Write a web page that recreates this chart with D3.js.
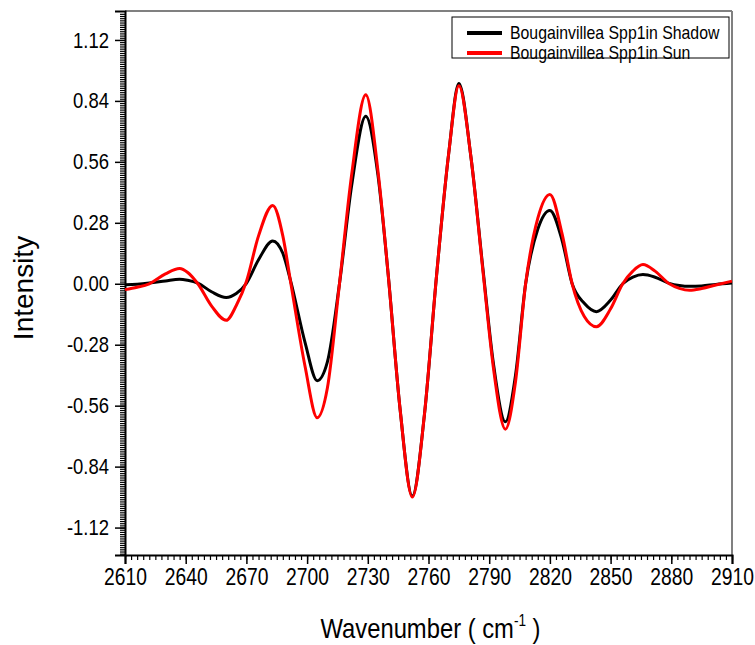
<!DOCTYPE html>
<html>
<head>
<meta charset="utf-8">
<script src="https://cdn.jsdelivr.net/npm/d3@7"></script>
<style>
  body { margin: 0; background: #fff; }
  text { font-family: "Liberation Sans", Arial, sans-serif; fill: #000; }
</style>
</head>
<body>
<svg id="chart" width="755" height="645"></svg>
<script>
// wavenumber samples (cm-1), shared by both spectra
const wavenumber = [2610, 2616, 2622, 2630, 2637, 2641, 2646, 2653, 2660, 2665,
  2670, 2676, 2683, 2688, 2692, 2699, 2705, 2710, 2716, 2722,
  2729, 2735, 2740, 2746, 2752, 2758, 2764, 2770, 2775, 2781,
  2787, 2792, 2798, 2803, 2808, 2814, 2820, 2826, 2831, 2837,
  2843, 2850, 2856, 2861, 2866, 2872, 2879, 2884, 2889, 2895,
  2902, 2910];

const shadow = [-0.004, -0.002, 0.003, 0.013, 0.021, 0.016, 0.003, -0.038, -0.063, -0.045,
  0.002, 0.11, 0.197, 0.14, 0.008, -0.27, -0.445, -0.36, 0.0, 0.45,
  0.77, 0.50, 0.05, -0.58, -0.975, -0.60, 0.04, 0.60, 0.92, 0.58,
  0.06, -0.36, -0.634, -0.42, 0.0, 0.25, 0.337, 0.20, 0.0, -0.09,
  -0.128, -0.075, 0.0, 0.03, 0.042, 0.03, 0.002, -0.008, -0.012, -0.01,
  -0.003, 0.003];

const sun = [-0.027, -0.016, 0.0, 0.045, 0.07, 0.052, 0.0, -0.105, -0.168, -0.10,
  0.01, 0.22, 0.36, 0.22, 0.0, -0.38, -0.615, -0.48, 0.0, 0.50,
  0.868, 0.52, 0.05, -0.58, -0.98, -0.60, 0.04, 0.60, 0.91, 0.58,
  0.05, -0.38, -0.668, -0.45, 0.0, 0.30, 0.41, 0.23, 0.0, -0.15,
  -0.197, -0.115, 0.0, 0.058, 0.088, 0.058, 0.0, -0.021, -0.03, -0.022,
  -0.006, 0.012];

const seriesNames = ["Bougainvillea Spp1in Shadow", "Bougainvillea Spp1in Sun"];
const seriesColors = ["#000000", "#ff0000"];

const xTicks = [2610, 2640, 2670, 2700, 2730, 2760, 2790, 2820, 2850, 2880, 2910];
const yTicks = [-1.12, -0.84, -0.56, -0.28, 0, 0.28, 0.56, 0.84, 1.12];

const width = 755, height = 645;
const margin = {top: 11, right: 23, bottom: 90, left: 125};
const plotW = width - margin.left - margin.right;
const plotH = height - margin.top - margin.bottom;
const narrow = 0.84; // the original uses a condensed face

const svg = d3.select("#chart");
const g = svg.append("g").attr("transform", "translate(" + margin.left + "," + margin.top + ")");

const x = d3.scaleLinear().domain([2610, 2910]).range([0, plotW]);
const y = d3.scaleLinear().domain([-1.246, 1.253]).range([plotH, 0]);

// top and right frame (grey)
g.append("line").attr("x1", 0).attr("x2", plotW).attr("y1", 0).attr("y2", 0)
  .attr("stroke", "#808080").attr("stroke-width", 2);
g.append("line").attr("x1", plotW).attr("x2", plotW).attr("y1", 0).attr("y2", plotH)
  .attr("stroke", "#808080").attr("stroke-width", 2);

// minor ticks
const xMinor = d3.range(2610, 2910.01, 3);
const yMinor = d3.range(-124, 125, 1).map(d => d / 100);

g.append("g").attr("transform", "translate(0," + plotH + ")")
  .call(d3.axisBottom(x).tickValues(xMinor).tickSize(5).tickFormat(""))
  .call(a => a.select(".domain").remove())
  .selectAll("line").attr("stroke-width", 1.2);

g.append("g")
  .call(d3.axisLeft(y).tickValues(yMinor).tickSize(5).tickFormat(""))
  .call(a => a.select(".domain").remove())
  .selectAll("line").attr("stroke-width", 1.2);

// major axes
const xAxis = g.append("g").attr("transform", "translate(0," + plotH + ")")
  .call(d3.axisBottom(x).tickValues(xTicks).tickSize(9).tickPadding(5).tickFormat(d => d));
xAxis.select(".domain").attr("stroke-width", 2);
xAxis.selectAll(".tick line").attr("stroke-width", 1.5);
xAxis.selectAll("text")
  .attr("font-size", 23)
  .attr("transform", "scale(" + narrow + ",1)");

const yAxis = g.append("g")
  .call(d3.axisLeft(y).tickValues(yTicks).tickSize(10).tickPadding(6).tickFormat(d => d.toFixed(2)));
yAxis.select(".domain").attr("stroke-width", 2);
yAxis.selectAll(".tick line").attr("stroke-width", 1.5);
yAxis.selectAll("text")
  .attr("font-size", 22)
  .attr("x", -16 / narrow)
  .attr("transform", "scale(" + narrow + ",1)");

svg.selectAll("g.tick text").attr("font-family", null);

// lines
const line = d3.line()
  .x((d, i) => x(wavenumber[i]))
  .y(d => y(d))
  .curve(d3.curveMonotoneX);

[shadow, sun].forEach((s, k) => {
  g.append("path")
    .datum(s)
    .attr("fill", "none")
    .attr("stroke", seriesColors[k])
    .attr("stroke-width", 3)
    .attr("stroke-linejoin", "round")
    .attr("d", line);
});

// legend
const legend = svg.append("g").attr("transform", "translate(452,17)");
legend.append("rect").attr("width", 277).attr("height", 41)
  .attr("fill", "#fff").attr("stroke", "#000").attr("stroke-width", 1);
seriesNames.forEach((name, k) => {
  const yy = 16 + k * 20;
  legend.append("line").attr("x1", 15).attr("x2", 50).attr("y1", yy).attr("y2", yy)
    .attr("stroke", seriesColors[k]).attr("stroke-width", 4);
  legend.append("text")
    .attr("transform", "translate(58," + yy + ") scale(0.88,1)")
    .attr("dy", "0.35em")
    .attr("font-size", 18)
    .text(name);
});

// axis titles
svg.append("text")
  .attr("transform", "translate(33,288) rotate(-90)")
  .attr("text-anchor", "middle")
  .attr("font-size", 28)
  .text("Intensity");

const xt = svg.append("text")
  .attr("transform", "translate(" + (margin.left + plotW / 2 + 2) + ",638) scale(0.85,1)")
  .attr("text-anchor", "middle")
  .attr("font-size", 28);
xt.append("tspan").text("Wavenumber ( cm");
xt.append("tspan").attr("font-size", 16).attr("dy", -12).text("-1");
xt.append("tspan").attr("dy", 12).text(" )");
</script>
</body>
</html>
